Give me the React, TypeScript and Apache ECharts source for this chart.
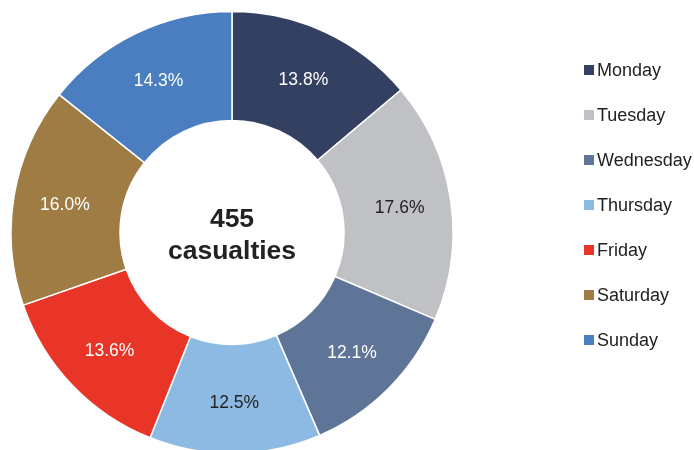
import React, { useEffect, useRef } from "react";
import * as echarts from "echarts";

const categories = ["Monday", "Tuesday", "Wednesday", "Thursday", "Friday", "Saturday", "Sunday"];
const casualties = [63, 80, 55, 57, 62, 73, 65];
const colors = ["#344061", "#bfc1c4", "#5f7598", "#8dbae3", "#e83528", "#9e7c44", "#4a7ec0"];
const labelColors = ["#ffffff", "#222222", "#ffffff", "#222222", "#ffffff", "#ffffff", "#ffffff"];
const totalLabel = "455";
const centerCaption = "casualties";

export default function App() {
  const ref = useRef<HTMLDivElement>(null);
  useEffect(() => {
    if (!ref.current) return;
    const chart = echarts.init(ref.current, null, { renderer: "svg" });
    const font = "'Liberation Sans', Arial, sans-serif";
    const total = casualties.reduce((a, b) => a + b, 0);
    chart.setOption({
      animation: false,
      color: colors,
      legend: {
        orient: "vertical",
        left: 584,
        top: 61,
        padding: 0,
        itemWidth: 10,
        itemHeight: 10,
        itemGap: 27,
        icon: "rect",
        data: categories,
        itemStyle: { borderWidth: 0 },
        textStyle: { fontFamily: font, fontSize: 18, color: "#222222", lineHeight: 18, padding: [0, 0, 0, -2] },
      },
      graphic: [
        {
          type: "text",
          x: 232,
          y: 234,
          z: 100,
          style: {
            text: totalLabel + "\n" + centerCaption,
            align: "center",
            verticalAlign: "middle",
            fontFamily: font,
            fontSize: 26.5,
            fontWeight: "bold",
            lineHeight: 32,
            fill: "#222222",
          },
        },
      ],
      series: [
        {
          type: "pie",
          center: [232, 232.5],
          radius: [112, 221],
          startAngle: 90,
          clockwise: true,
          avoidLabelOverlap: false,
          itemStyle: { borderColor: "#ffffff", borderWidth: 1.5 },
          label: {
            show: true,
            position: "inside",
            fontFamily: font,
            fontSize: 17.5,
          },
          labelLine: { show: false },
          emphasis: { disabled: true },
          data: categories.map((c, i) => ({
            name: c,
            value: casualties[i],
            label: {
              color: labelColors[i],
              formatter: (p: any) => ((p.value / total) * 100).toFixed(1) + "%",
            },
          })),
        },
      ],
    });
    return () => chart.dispose();
  }, []);
  return <div ref={ref} style={{ position: "fixed", left: 0, top: 0, width: 694, height: 450 }} />;
}
